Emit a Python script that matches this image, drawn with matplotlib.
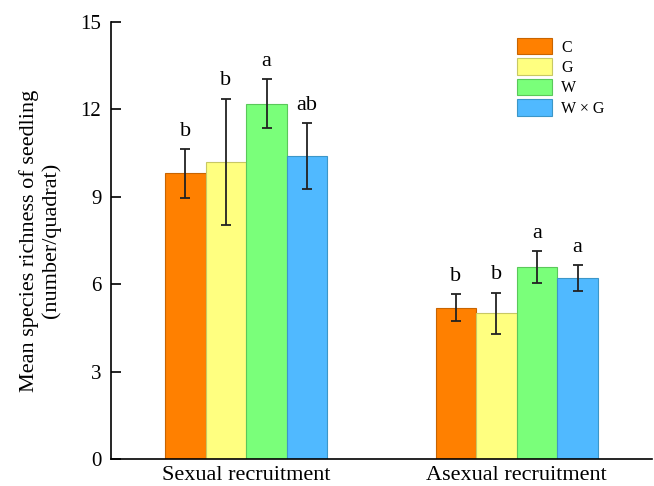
import matplotlib
matplotlib.use("Agg")
import matplotlib.pyplot as plt
import numpy as np

plt.rcParams['font.family'] = ['Liberation Serif', 'DejaVu Serif']

groups = ["Sexual recruitment", "Asexual recruitment"]
treatments = ["C", "G", "W", "W × G"]
means = {
    "C": [9.8, 5.2],
    "G": [10.2, 5.0],
    "W": [12.2, 6.6],
    "W × G": [10.4, 6.2],
}
errors = {
    "C": [0.83, 0.45],
    "G": [2.17, 0.71],
    "W": [0.85, 0.55],
    "W × G": [1.14, 0.45],
}
letters = {
    "C": ["b", "b"],
    "G": ["b", "b"],
    "W": ["a", "a"],
    "W × G": ["ab", "a"],
}
colors = ["#FF8000", "#FFFF80", "#7AFF7A", "#50B9FF"]
edges = ["#C86400", "#C8C864", "#5AC85A", "#3C96C8"]

fig = plt.figure(figsize=(6.54, 4.86), dpi=100)
ax = fig.add_axes([111/654, 1 - 459/486, (652 - 111)/654, (459 - 22)/486])

x = np.arange(len(groups))
width = 0.15
offsets = (np.arange(len(treatments)) - 1.5) * width

for i, t in enumerate(treatments):
    xs = x + offsets[i]
    ax.bar(xs, means[t], width, color=colors[i], edgecolor=edges[i],
           linewidth=0.8, label=t, zorder=2)
    ax.errorbar(xs, means[t], yerr=errors[t], fmt='none', ecolor='#222222',
                elinewidth=1.3, capsize=3.8, capthick=1.3, zorder=3)
    for xx, m, e, lab in zip(xs, means[t], errors[t], letters[t]):
        ax.text(xx, m + e + 0.28, lab, ha='center', va='bottom', fontsize=16)

ax.set_xlim(-0.5, 1.5)
ax.set_ylim(0, 15)
ax.set_yticks([0, 3, 6, 9, 12, 15])
ax.set_xticks(x)
ax.set_xticklabels(groups, fontsize=16)
ax.tick_params(axis='x', length=0, pad=5)
ax.tick_params(axis='y', direction='in', length=7, width=1.2, labelsize=15, pad=7)
for s in ['top', 'right']:
    ax.spines[s].set_visible(False)
for s in ['left', 'bottom']:
    ax.spines[s].set_linewidth(1.2)

ax.set_ylabel("Mean species richness of seedling\n(number/quadrat)", fontsize=16,
              linespacing=1.15)
ax.yaxis.set_label_coords(-0.092, 0.5)

leg = ax.legend(loc='upper left', bbox_to_anchor=(517/654, 1 - 38/486),
                bbox_transform=fig.transFigure, frameon=False, fontsize=11.5,
                handlelength=2.2, handleheight=1.2, labelspacing=0.18,
                handletextpad=0.55, borderpad=0, borderaxespad=0)

fig.savefig("out.png", dpi=100)
